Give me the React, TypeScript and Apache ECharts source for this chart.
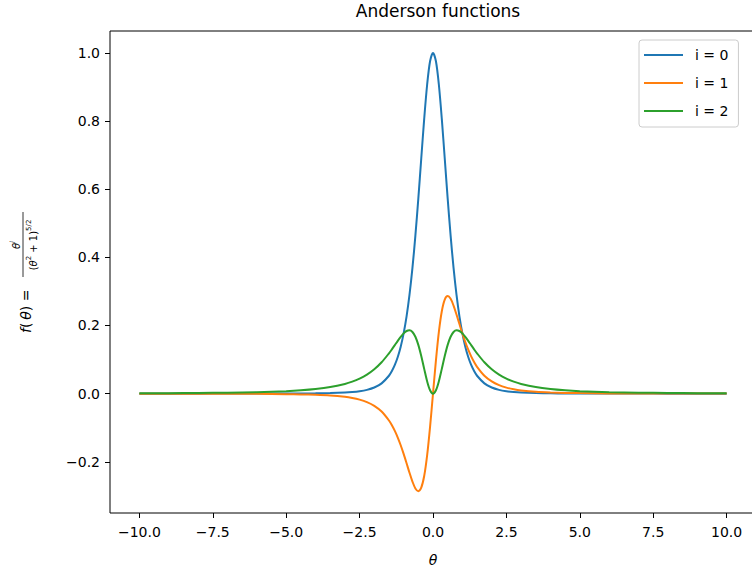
import React, { useEffect, useRef } from "react";
import * as echarts from "echarts";

const thetas = [
  -10, -9, -8, -7, -6, -5, -4.5, -4, -3.5, -3, -2.75, -2.5, -2.25, -2, -1.75, -1.5,
  -1.4, -1.3, -1.2, -1.1, -1, -0.9, -0.8, -0.7, -0.6, -0.5, -0.4, -0.3, -0.2, -0.1,
  0,
  0.1, 0.2, 0.3, 0.4, 0.5, 0.6, 0.7, 0.8, 0.9, 1, 1.1, 1.2, 1.3, 1.4,
  1.5, 1.75, 2, 2.25, 2.5, 2.75, 3, 3.5, 4, 4.5, 5, 6, 7, 8, 9, 10,
];

const seriesI0 = [
  0, 0, 0, 0.0001, 0.0001, 0.0003, 0.0005, 0.0008, 0.0016, 0.0032, 0.0047, 0.0071, 0.0111, 0.0179, 0.0301, 0.0525,
  0.0663, 0.0842, 0.1075, 0.1377, 0.1768, 0.2269, 0.2903, 0.369, 0.4636, 0.5724, 0.69, 0.8062, 0.9066, 0.9754,
  1,
  0.9754, 0.9066, 0.8062, 0.69, 0.5724, 0.4636, 0.369, 0.2903, 0.2269, 0.1768, 0.1377, 0.1075, 0.0842, 0.0663,
  0.0525, 0.0301, 0.0179, 0.0111, 0.0071, 0.0047, 0.0032, 0.0016, 0.0008, 0.0005, 0.0003, 0.0001, 0.0001, 0, 0, 0,
];

const seriesI1 = [
  -0.0001, -0.0001, -0.0002, -0.0004, -0.0007, -0.0015, -0.0022, -0.0034, -0.0055, -0.0095, -0.0128, -0.0177, -0.0249, -0.0358, -0.0526, -0.0788,
  -0.0929, -0.1095, -0.129, -0.1515, -0.1768, -0.2042, -0.2323, -0.2583, -0.2782, -0.2862, -0.276, -0.2419, -0.1813, -0.0975,
  0,
  0.0975, 0.1813, 0.2419, 0.276, 0.2862, 0.2782, 0.2583, 0.2323, 0.2042, 0.1768, 0.1515, 0.129, 0.1095, 0.0929,
  0.0788, 0.0526, 0.0358, 0.0249, 0.0177, 0.0128, 0.0095, 0.0055, 0.0034, 0.0022, 0.0015, 0.0007, 0.0004, 0.0002, 0.0001, 0.0001,
];

const seriesI2 = [
  0.001, 0.0013, 0.0019, 0.0028, 0.0043, 0.0073, 0.0097, 0.0134, 0.0192, 0.0285, 0.0353, 0.0442, 0.0559, 0.0716, 0.0921, 0.1182,
  0.13, 0.1424, 0.1548, 0.1667, 0.1768, 0.1838, 0.1858, 0.1808, 0.1669, 0.1431, 0.1104, 0.0726, 0.0363, 0.0098,
  0,
  0.0098, 0.0363, 0.0726, 0.1104, 0.1431, 0.1669, 0.1808, 0.1858, 0.1838, 0.1768, 0.1667, 0.1548, 0.1424, 0.13,
  0.1182, 0.0921, 0.0716, 0.0559, 0.0442, 0.0353, 0.0285, 0.0192, 0.0134, 0.0097, 0.0073, 0.0043, 0.0028, 0.0019, 0.0013, 0.001,
];

const seriesNames = ["i = 0", "i = 1", "i = 2"];
const seriesColors = ["#1f77b4", "#ff7f0e", "#2ca02c"];
const xTicks = [-10, -7.5, -5, -2.5, 0, 2.5, 5, 7.5, 10];
const yTicks = [-0.2, 0, 0.2, 0.4, 0.6, 0.8, 1.0];

const FONT = "DejaVu Sans";

const fmt = (v: number) => v.toFixed(1).replace("-", "\u2212");

export default function App() {
  const ref = useRef<HTMLDivElement>(null);

  useEffect(() => {
    if (!ref.current) return;
    const chart = echarts.init(ref.current, null, { renderer: "svg" });
    const values = [seriesI0, seriesI1, seriesI2];

    const option: any = {
      animation: false,
      backgroundColor: "#ffffff",
      title: {
        text: "Anderson functions",
        left: 433,
        textAlign: "center",
        top: -3,
        textStyle: { fontFamily: FONT, fontSize: 17, fontWeight: "normal", color: "#000" },
      },
      grid: {
        left: 110,
        top: 31,
        width: 646,
        height: 482,
        show: true,
        borderColor: "#000",
        borderWidth: 1,
        backgroundColor: "transparent",
      },
      legend: {
        orient: "vertical",
        left: 639,
        top: 40,
        padding: [8, 10, 9, 5],
        itemGap: 14,
        itemWidth: 39,
        itemHeight: 2,
        icon: "rect",
        backgroundColor: "#fff",
        borderColor: "#cccccc",
        borderWidth: 1,
        borderRadius: 3,
        textStyle: { fontFamily: FONT, fontSize: 14, color: "#000", lineHeight: 14, padding: [0, 0, 0, 7] },
        data: seriesNames,
      },
      xAxis: {
        type: "value",
        min: -11,
        max: 11,
        axisLine: { show: false, onZero: false },
        splitLine: { show: false },
        axisTick: { show: true, customValues: xTicks, length: 5, lineStyle: { color: "#000", width: 1 } },
        axisLabel: {
          customValues: xTicks,
          formatter: (v: number) => fmt(v),
          fontFamily: FONT,
          fontSize: 14,
          color: "#000",
          margin: 12,
        },
      },
      yAxis: {
        type: "value",
        min: -0.35036,
        max: 1.06431,
        axisLine: { show: false, onZero: false },
        splitLine: { show: false },
        axisTick: { show: true, customValues: yTicks, length: 5, lineStyle: { color: "#000", width: 1 } },
        axisLabel: {
          customValues: yTicks,
          formatter: (v: number) => fmt(v),
          fontFamily: FONT,
          fontSize: 14,
          color: "#000",
          margin: 10,
        },
      },
      series: values.map((vals, k) => ({
        name: seriesNames[k],
        type: "line",
        data: thetas.map((t, j) => [t, vals[j]]),
        showSymbol: false,
        symbol: "none",
        smooth: 0.3,
        lineStyle: { color: seriesColors[k], width: 2 },
        itemStyle: { color: seriesColors[k] },
        z: 2 + k,
      })),
      graphic: [
        {
          type: "text",
          x: 433,
          y: 560,
          style: {
            text: "θ",
            fontFamily: FONT,
            fontStyle: "italic",
            fontSize: 14,
            fill: "#000",
            align: "center",
            verticalAlign: "middle",
          },
        },
        {
          type: "group",
          x: 26,
          y: 272,
          rotation: Math.PI / 2,
          children: [
            {
              type: "text",
              x: -61,
              y: 0,
              style: {
                text: "{it|f}(\u2009{it|θ}) =",
                fontFamily: FONT,
                fontSize: 14,
                fill: "#000",
                verticalAlign: "middle",
                align: "left",
                rich: {
                  it: { fontFamily: FONT, fontStyle: "italic", fontSize: 14, fill: "#000" },
                },
              },
            },
            {
              type: "line",
              shape: { x1: -5, y1: -3, x2: 60, y2: -3 },
              style: { stroke: "#000", lineWidth: 0.8 },
            },
            {
              type: "text",
              x: 27,
              y: -5,
              style: {
                text: "{it|θ}{sup|i}",
                fontFamily: FONT,
                fontSize: 10,
                fill: "#000",
                align: "center",
                verticalAlign: "bottom",
                rich: {
                  it: { fontFamily: FONT, fontStyle: "italic", fontSize: 10, lineHeight: 12, fill: "#000", verticalAlign: "bottom" },
                  sup: { fontFamily: FONT, fontStyle: "italic", fontSize: 7, lineHeight: 12, fill: "#000", verticalAlign: "top" },
                },
              },
            },
            {
              type: "text",
              x: 27,
              y: -1,
              style: {
                text: "{n|(}{it|θ}{sup|2}{n| + 1)}{sup|5/2}",
                fontFamily: FONT,
                fontSize: 10,
                fill: "#000",
                align: "center",
                verticalAlign: "top",
                rich: {
                  n: { fontFamily: FONT, fontSize: 10, lineHeight: 13, fill: "#000", verticalAlign: "bottom" },
                  it: { fontFamily: FONT, fontStyle: "italic", fontSize: 10, lineHeight: 13, fill: "#000", verticalAlign: "bottom" },
                  sup: { fontFamily: FONT, fontSize: 7, lineHeight: 13, fill: "#000", verticalAlign: "top" },
                },
              },
            },
          ],
        },
      ],
    };

    chart.setOption(option);
    return () => chart.dispose();
  }, []);

  return (
    <div
      style={{ position: "fixed", left: 0, top: 0, width: 752, height: 574, overflow: "hidden" }}
    >
      <div ref={ref} style={{ position: "absolute", left: 0, top: 0, width: 764, height: 574 }} />
    </div>
  );
}
